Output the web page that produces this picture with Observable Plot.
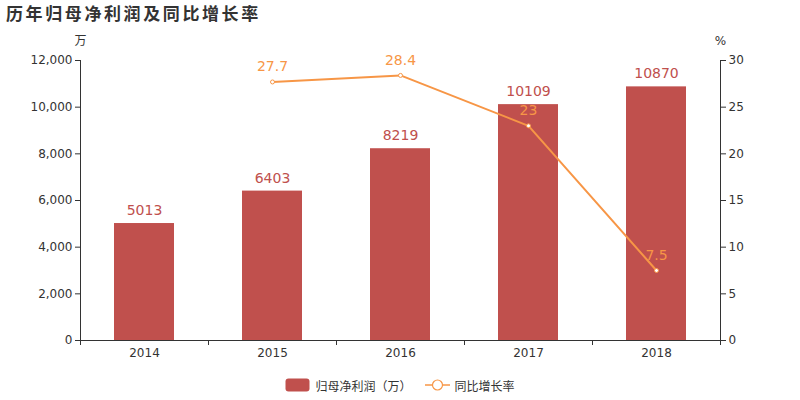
<!DOCTYPE html>
<html>
<head>
<meta charset="utf-8">
<script src="https://cdn.jsdelivr.net/npm/d3@7"></script>
<script src="https://cdn.jsdelivr.net/npm/@observablehq/plot@0.6"></script>
<style>
  body { margin: 0; background: #fff; font-family: "DejaVu Sans", "Noto Sans CJK SC", sans-serif; }
  #wrap { width: 800px; height: 400px; position: relative; overflow: hidden; }
  #title { height: 25px; padding-left: 6px; font-size: 17px; font-weight: bold; color: #333; line-height: 26px; letter-spacing: 2.6px; font-family: "Noto Sans CJK SC", sans-serif; }
  #legend { height: 30px; display: flex; justify-content: center; align-items: center; font-size: 12px; color: #333; font-family: "Noto Sans CJK SC", sans-serif; }
  #legend .item { display: flex; align-items: center; margin: 0 5px; }
  #legend svg { margin-right: 5px; }
</style>
</head>
<body>
<div id="wrap">
  <div id="title">历年归母净利润及同比增长率</div>
  <div id="chart"></div>
  <div id="legend">
    <div class="item"><svg width="25" height="14"><rect x="0.5" y="0.5" width="24" height="13" rx="3" fill="#c0504d"/></svg><span>归母净利润（万）</span></div>
    <div class="item" style="margin-left:8px"><svg width="25" height="14"><line x1="0" x2="25" y1="7" y2="7" stroke="#f79646" stroke-width="1.5"/><circle cx="12.5" cy="7" r="5" fill="#fff" stroke="#f79646" stroke-width="1.2"/></svg><span>同比增长率</span></div>
  </div>
</div>
<script>
const years = ["2014", "2015", "2016", "2017", "2018"];
const profit = [5013, 6403, 8219, 10109, 10870];
const growthYears = ["2015", "2016", "2017", "2018"];
const growth = [27.7, 28.4, 23, 7.5];
const leftTicks = [0, 2000, 4000, 6000, 8000, 10000, 12000];
const rightTicks = [0, 5, 10, 15, 20, 25, 30];

const barColor = "#c0504d";
const lineColor = "#f79646";
const ratio = 12000 / 30;

const bars = years.map((y, i) => ({year: y, value: profit[i]}));
const line = growthYears.map((y, i) => ({year: y, g: growth[i], v: growth[i] * ratio}));

const W = 800, H = 345, mt = 35, mb = 30, ml = 80, mr = 80;
const plotH = H - mt - mb;
const step = (W - ml - mr) / years.length;

const chart = Plot.plot({
  width: W, height: H,
  marginTop: mt, marginBottom: mb, marginLeft: ml, marginRight: mr,
  style: {fontFamily: "DejaVu Sans, Noto Sans CJK SC, sans-serif", fontSize: "12px", color: "#333", background: "#fff"},
  x: {domain: years, padding: 0},
  y: {domain: [0, 12000]},
  marks: [
    Plot.barY(bars, {x: "year", y: "value", fill: barColor, insetLeft: 34, insetRight: 34}),
    Plot.text(bars, {x: "year", y: "value", text: d => String(d.value), dy: -13, fill: barColor, fontSize: 14}),
    Plot.ruleY([0], {stroke: "#333"}),
    Plot.ruleX([years[0]], {dx: -step / 2, stroke: "#333"}),
    Plot.ruleX([years[years.length - 1]], {dx: step / 2, stroke: "#333"}),
    Plot.ruleX(years, {dx: -step / 2, dy: 5, insetTop: plotH - 5, stroke: "#333"}),
    Plot.ruleX([years[years.length - 1]], {dx: step / 2, dy: 5, insetTop: plotH - 5, stroke: "#333"}),
    Plot.axisX({tickSize: 0, tickPadding: 8, label: null, fontSize: 12}),
    Plot.axisY({ticks: leftTicks, tickSize: 5, tickPadding: 3, tickFormat: d3.format(","), label: null, anchor: "left"}),
    Plot.axisY({ticks: rightTicks.map(t => t * ratio), tickSize: 5, tickPadding: 3, tickFormat: d => String(d / ratio), label: null, anchor: "right"}),
    Plot.line(line, {x: "year", y: "v", stroke: lineColor, strokeWidth: 2}),
    Plot.dot(line, {x: "year", y: "v", r: 2, fill: "#fff", stroke: lineColor, strokeWidth: 1}),
    Plot.text(line, {x: "year", y: "v", text: d => String(d.g), dy: -15, fill: lineColor, fontSize: 14}),
    Plot.text(["万"], {frameAnchor: "top-left", dy: -24, text: d => d, fontSize: 12, fill: "#333", textAnchor: "middle", fontFamily: "Noto Sans CJK SC"}),
    Plot.text(["%"], {frameAnchor: "top-right", dy: -24, text: d => d, fontSize: 12, fill: "#333", textAnchor: "middle"})
  ]
});
document.getElementById("chart").appendChild(chart);
</script>
</body>
</html>
